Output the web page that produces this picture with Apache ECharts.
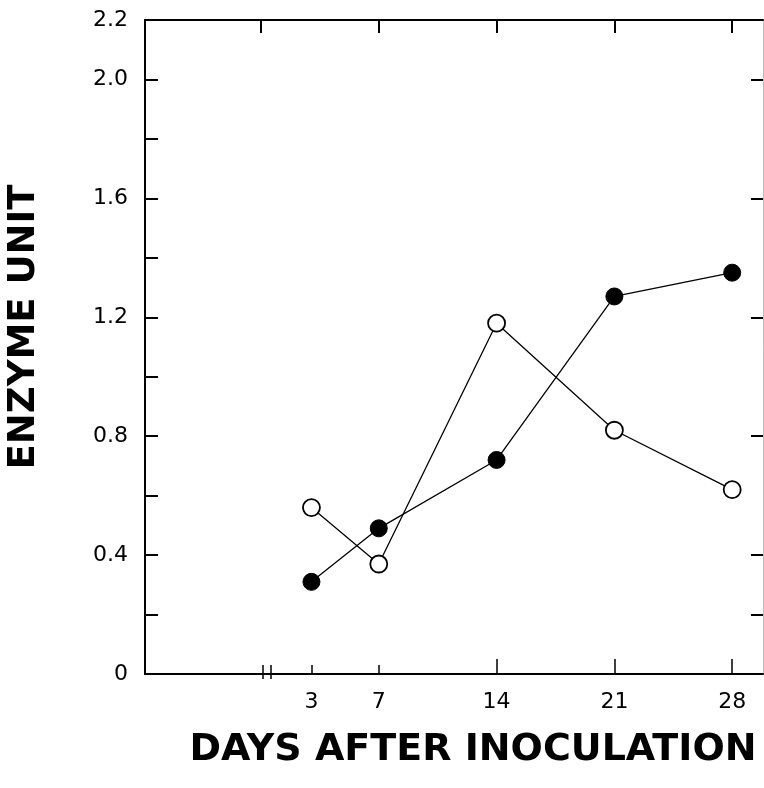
<!DOCTYPE html>
<html>
<head>
<meta charset="utf-8">
<script src="https://cdn.jsdelivr.net/npm/echarts@6/dist/echarts.min.js"></script>
<style>
	html, body { margin: 0; padding: 0; background: #fff; }
	#chart { width: 764px; height: 788px; }
</style>
</head>
<body>
<div id="chart"></div>
<script>
// days after inoculation
const days = [3, 7, 14, 21, 28];
// filled circles
const filledUnits = [0.31, 0.49, 0.72, 1.27, 1.35];
// open circles
const openUnits = [0.56, 0.37, 1.18, 0.82, 0.62];

const yLabelValues = [0, 0.4, 0.8, 1.2, 1.6, 2.0, 2.2];
const bottomLabelDays = [3, 7, 14, 21, 28];
const shortTickDays = [3, 7];
const longTickDays = [14, 21, 28];
const topTickDays = [0, 7, 14, 21, 28];
const rightTickValues = [0.2, 0.4, 0.8, 1.2, 1.6, 2.0];
const breakDays = [0.13, 0.6];

const xMin = -6.89;
const xMax = 29.83;
const font = "DejaVu Sans";

function pairs(ys) {
	return days.map(function(d, i) { return [d, ys[i]]; });
}

function bottomAxis(extra) {
	let a = {
		type: "value",
		gridIndex: 0,
		position: "bottom",
		min: xMin,
		max: xMax,
		axisLine: { show: false, onZero: false },
		axisLabel: { show: false },
		splitLine: { show: false },
		axisTick: { show: false }
	};
	return Object.assign(a, extra);
}

let chart = echarts.init(document.getElementById("chart"));

let option = {
	animation: false,
	backgroundColor: "#fff",
	grid: {
		left: 145,
		right: 1,
		top: 20,
		bottom: 114,
		outerBoundsMode: "none"
	},
	xAxis: [
		bottomAxis({
			name: "DAYS AFTER INOCULATION",
			nameLocation: "middle",
			nameGap: 57,
			nameTextStyle: {
				fontFamily: font,
				fontSize: 38,
				fontWeight: "bold",
				color: "#000",
				padding: [0, 0, 0, 38]
			},
			axisLine: { show: true, onZero: false, lineStyle: { color: "#000", width: 2 } },
			axisLabel: {
				show: true,
				customValues: bottomLabelDays,
				margin: 17,
				fontFamily: font,
				fontSize: 22,
				color: "#000"
			},
			axisTick: {
				show: true,
				inside: true,
				length: 9,
				customValues: shortTickDays,
				lineStyle: { color: "#000", width: 1.5 }
			}
		}),
		bottomAxis({
			axisTick: {
				show: true,
				inside: true,
				length: 15,
				customValues: longTickDays,
				lineStyle: { color: "#000", width: 1.5 }
			}
		}),
		bottomAxis({
			axisTick: {
				show: true,
				inside: true,
				length: 9,
				customValues: breakDays,
				lineStyle: { color: "#000", width: 1.5 }
			}
		}),
		bottomAxis({
			axisTick: {
				show: true,
				inside: false,
				length: 5,
				customValues: breakDays,
				lineStyle: { color: "#000", width: 1.5 }
			}
		}),
		bottomAxis({
			position: "top",
			axisLine: { show: true, onZero: false, lineStyle: { color: "#000", width: 2 } },
			axisTick: {
				show: true,
				inside: true,
				length: 13,
				customValues: topTickDays,
				lineStyle: { color: "#000", width: 2 }
			}
		})
	],
	yAxis: [
		{
			type: "value",
			position: "left",
			min: 0,
			max: 2.2,
			interval: 0.2,
			name: "ENZYME UNIT",
			nameLocation: "middle",
			nameGap: 102,
			nameTextStyle: {
				fontFamily: font,
				fontSize: 37,
				fontWeight: "bold",
				color: "#000",
				padding: [0, 0, 0, 40]
			},
			axisLine: { show: true, onZero: false, lineStyle: { color: "#000", width: 2 } },
			axisTick: {
				show: true,
				inside: true,
				length: 13,
				lineStyle: { color: "#000", width: 2 }
			},
			axisLabel: {
				customValues: yLabelValues,
				margin: 17,
				fontFamily: font,
				fontSize: 22,
				color: "#000",
				formatter: function(v) {
					return v === 0 ? "0" : v.toFixed(1);
				}
			},
			splitLine: { show: false }
		},
		{
			type: "value",
			position: "right",
			min: 0,
			max: 2.2,
			interval: 0.2,
			axisLine: { show: true, onZero: false, lineStyle: { color: "#bbb", width: 1 } },
			axisTick: {
				show: true,
				inside: true,
				length: 12,
				customValues: rightTickValues,
				lineStyle: { color: "#000", width: 2 }
			},
			axisLabel: { show: false },
			splitLine: { show: false }
		}
	],
	series: [
		{
			type: "line",
			data: pairs(filledUnits),
			symbol: "circle",
			symbolSize: 17,
			lineStyle: { color: "#000", width: 1.3 },
			itemStyle: { color: "#000", borderColor: "#000", borderWidth: 1 }
		},
		{
			type: "line",
			data: pairs(openUnits),
			symbol: "circle",
			symbolSize: 17,
			lineStyle: { color: "#000", width: 1.3 },
			itemStyle: { color: "#fff", borderColor: "#000", borderWidth: 1.8 }
		}
	]
};

chart.setOption(option);
</script>
</body>
</html>
